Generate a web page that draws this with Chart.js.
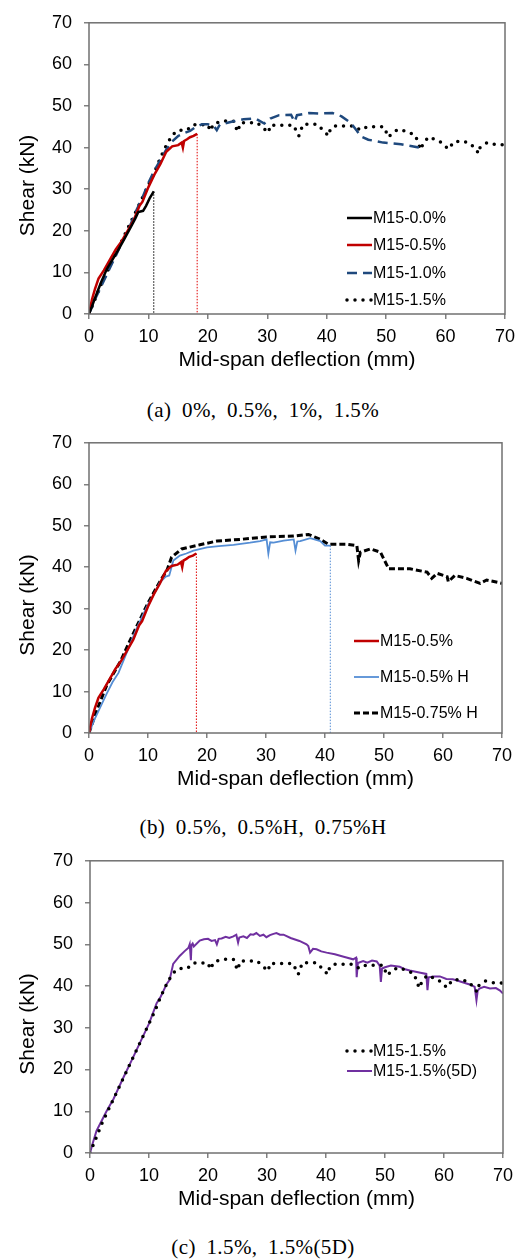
<!DOCTYPE html>
<html>
<head>
<meta charset="utf-8">
<script src="https://cdn.jsdelivr.net/npm/chart.js@4.4.1/dist/chart.umd.min.js"></script>
<style>
body { margin: 0; background: #fff; width: 526px; height: 1259px; position: relative; overflow: hidden; }
canvas { position: absolute; left: 0; }
.cap { position: absolute; left: 0; width: 526px; text-align: center; font-family: "Liberation Serif", "Times New Roman", serif; font-size: 21px; letter-spacing: 0.4px; word-spacing: 5px; line-height: 24px; color: #000; }
</style>
</head>
<body>
<canvas id="chartA" width="526" height="373" style="top:0px"></canvas>
<div class="cap" style="top:398px">(a) 0%, 0.5%, 1%, 1.5%</div>
<canvas id="chartB" width="526" height="372" style="top:420px"></canvas>
<div class="cap" style="top:815px">(b) 0.5%, 0.5%H, 0.75%H</div>
<canvas id="chartC" width="526" height="374" style="top:838px"></canvas>
<div class="cap" style="top:1235px">(c) 1.5%, 1.5%(5D)</div>

<script>
// tick values (mm / kN)
const xTicks = [0, 10, 20, 30, 40, 50, 60, 70];
const yTicks = [0, 10, 20, 30, 40, 50, 60, 70];

// [deflection mm, shear kN]
const m15_00 = [[0,0],[0.5,1.8],[1,3.8],[2,7.5],[3,10.8],[4,13.2],[5,15.6],[6,18.2],[7,20.8],[7.8,23],[8.3,24.5],[9.1,24.8],[9.6,26],[10.2,27.8],[10.9,29.5]];
const m15_00_end = [[10.9,29.5],[10.9,0]];

const m15_05 = [[0,0],[0.5,3.5],[1,6],[1.6,8.5],[2.5,10.5],[3.5,13],[4.5,15.5],[5.5,17.5],[6.5,20],[7.5,22.5],[8.5,26],[9,27],[10,30.5],[11,33.5],[12,36],[13,39],[14,40.3],[15,40.6],[15.6,41.2],[15.8,40],[16,41.6],[16.5,42],[17,42.5],[17.6,42.8],[18.2,43.3]];
const m15_05_end = [[18.2,43.3],[18.2,0]];

const m15_10 = [[0,0],[1,3.5],[2,6.5],[3,9.5],[4,12.5],[5,15.5],[6,18.5],[7,21.5],[8,25],[9,28],[10,31.5],[11,34.5],[12,37],[13,39.5],[14,41.5],[15,42.8],[16,43.5],[17,44],[18,45],[19,45.6],[20,45.6],[21,45.2],[21.5,44.2],[22,45.5],[24,46.2],[26,46.8],[28,47],[29.5,45.8],[30.5,47],[32,47.8],[34,47.9],[34.6,46.2],[35,47.8],[37,48.3],[39,48.2],[41,48.3],[42.5,47.5],[44,46],[45,44.2],[45.7,42.7],[47,41.9],[49.5,41.2],[52.5,40.8],[55.5,40]];

const m15_15 = [[0,0],[1,3.5],[2,7],[3,10],[4,13],[5,16],[6,19],[7,22],[8,25],[9,28],[10,31],[11,34],[12,37.5],[13,40.5],[14,43],[15,44.2],[16.5,44.2],[17.5,45.5],[20,45.5],[20.4,44],[21,45.8],[22.7,46.4],[24.3,46.4],[25,43.8],[25.5,46],[28.3,46],[30.2,43.6],[30.5,45.4],[34.4,45.4],[35.3,42.8],[36,45.6],[38.4,45.6],[40.3,42.8],[40.6,44.4],[41.2,45.2],[44.5,45.2],[45.7,44.2],[46.8,45],[49.6,45],[50.4,42.5],[51,43.5],[51.5,44],[52.4,44.4],[54.9,43],[55.8,39.5],[56.3,41.2],[57.2,42.6],[59.1,41.4],[60.5,39.6],[61.4,41.4],[62.8,41.6],[64.2,41],[65.6,38.6],[65.8,40],[67,41.2],[68.6,40.7],[70,40.7]];

const m15_05H = [[0,0],[1,3.5],[2,6.5],[3,9.5],[4,12.3],[5,14.5],[6,18],[7,21.5],[8,25],[9,28],[10,31],[11,33.5],[12,36.3],[13,37.7],[13.6,38],[14.3,41.6],[15.4,42.8],[16.5,43.3],[17.7,44],[20,44.8],[22,45.1],[24.5,45.4],[27.3,45.9],[29,46.3],[30.1,46.7],[30.4,43.3],[30.7,46],[31.3,45.9],[33,46.4],[34.7,46.7],[35,44],[35.3,46.2],[35.8,46.3],[37.5,47],[39.2,46.3],[40,45.2],[40.9,45.2]];
const m15_05H_end = [[40.9,45.2],[40.9,0]];

const m15_075H = [[0,0],[1.3,5.4],[3,11.5],[5.3,17.2],[7.5,24],[10,31.4],[12,36.5],[13.2,39.2],[14,42.4],[15.7,44.4],[18.8,45.4],[21.7,46.3],[25.6,46.7],[30.1,47.3],[34.7,47.5],[37.2,47.9],[39.2,46.7],[40.6,45.5],[43.7,45.5],[45.4,45.2],[45.7,41.6],[46,43.6],[47.7,44.4],[49.4,43.6],[50.8,39.6],[54.4,39.6],[57.3,38.8],[58.1,37.3],[59,38.5],[60.7,37.7],[60.9,36.5],[62,38],[64,37.3],[66.3,36.1],[67.4,36.9],[70,36.1]];

const m15_15_5D = [[0,0],[0.5,2.5],[1.1,5.3],[2,7.8],[2.8,10],[4,13],[5.6,17.9],[7,22],[9,28],[10,31],[11.3,35.9],[12,37.5],[13,40.5],[13.5,41.5],[14.1,45.3],[15.2,47.2],[16,48.3],[16.7,49.2],[16.9,50],[17.1,46.2],[17.2,49.8],[17.4,50.2],[17.6,49.5],[18.6,50.9],[19.3,51.2],[20,51.3],[20.6,50.8],[21.2,51],[21.5,50],[21.8,51.3],[22.3,51.4],[23,51.8],[23.6,51.5],[24.3,51.9],[24.8,52.3],[25.1,50.4],[25.3,51.6],[26,51.9],[26.6,51.5],[27.2,52.4],[27.7,52.3],[28.2,52.7],[28.8,52],[29.4,52.3],[29.9,51.7],[30.5,52.2],[31.1,52.5],[31.6,52.7],[32.2,52.3],[32.8,52.3],[34,51.5],[35.5,50.8],[36.7,50],[37,49.6],[37.3,48],[37.8,48.9],[38.4,48.8],[39.2,48.3],[40.1,48],[41.5,47.6],[43,47],[44.6,46.4],[45.1,46.8],[45.2,42.1],[45.4,45.5],[46.3,46],[47,45.6],[47.8,46.1],[48.6,45.9],[49.1,44.9],[49.3,41],[49.5,44.2],[50,44.5],[51,44.9],[52.5,44.6],[53.4,44],[54.2,43.7],[55,43.5],[56,43.2],[57,42.9],[57.2,39],[57.4,42.1],[58.2,42.3],[59.3,42.3],[60.4,41.7],[61.5,41.6],[62.5,41.2],[63.8,40.6],[64.5,40.3],[65.2,39.8],[65.5,36.6],[65.7,38.8],[66,39.4],[66.8,39.8],[67.8,39.4],[68.8,39.5],[69.5,38.9],[70,38.2]];

const FONT = '"Liberation Sans", Arial, sans-serif';

function pts(arr) {
    return arr.map(p => ({ x: p[0], y: p[1] }));
}

// frame, y title and in-plot legend
const decorPlugin = {
    id: 'decor',
    afterDatasetsDraw(chart, args, opts) {
        const ctx = chart.ctx;
        const a = chart.chartArea;
        ctx.save();
        ctx.strokeStyle = '#707070';
        ctx.lineWidth = 1.5;
        ctx.strokeRect(a.left, a.top, a.right - a.left, a.bottom - a.top);

        ctx.fillStyle = '#000';
        ctx.font = '21px ' + FONT;
        ctx.textAlign = 'center';
        ctx.textBaseline = 'middle';
        ctx.translate(28, (a.top + a.bottom) / 2 + 17);
        ctx.rotate(-Math.PI / 2);
        ctx.fillText('Shear (kN)', 0, 0);
        ctx.restore();

        // legend
        ctx.save();
        ctx.font = '16px ' + FONT;
        ctx.textBaseline = 'middle';
        ctx.textAlign = 'left';
        opts.items.forEach((idx, i) => {
            const ds = chart.data.datasets[idx];
            const y = opts.rows[i];
            ctx.strokeStyle = ds.borderColor;
            ctx.lineWidth = ds.borderWidth;
            ctx.lineCap = ds.borderCapStyle || 'butt';
            ctx.setLineDash(ds.borderDash || []);
            ctx.beginPath();
            ctx.moveTo(opts.x, y);
            ctx.lineTo(opts.x + opts.len, y);
            ctx.stroke();
            ctx.setLineDash([]);
            ctx.fillStyle = '#000';
            ctx.fillText(ds.label, opts.x + opts.len + 1, y + 1);
        });
        ctx.restore();
    }
};

function makeChart(id, datasets, yWidth, padRight, legend) {
    const ctx = document.getElementById(id).getContext('2d');
    return new Chart(ctx, {
        type: 'line',
        data: { datasets: datasets },
        options: {
            responsive: false,
            animation: false,
            devicePixelRatio: 1,
            layout: { padding: { top: 17, right: padRight, bottom: 0, left: 0 } },
            elements: { point: { radius: 0 }, line: { tension: 0 } },
            plugins: { legend: { display: false }, tooltip: { enabled: false }, decor: legend },
            scales: {
                x: {
                    type: 'linear', min: 0, max: 70,
                    afterBuildTicks: s => { s.ticks = xTicks.map(v => ({ value: v })); },
                    afterFit: s => { s.height = 59; },
                    grid: { drawOnChartArea: false, drawTicks: true, tickLength: 5, color: '#808080', lineWidth: 1.5 },
                    border: { display: false },
                    ticks: { color: '#000', font: { family: FONT, size: 18 }, padding: 7, maxRotation: 0 },
                    title: { display: true, text: 'Mid-span deflection (mm)', color: '#000', font: { family: FONT, size: 21 }, padding: { top: 0, bottom: 0 } }
                },
                y: {
                    type: 'linear', min: 0, max: 70,
                    afterBuildTicks: s => { s.ticks = yTicks.map(v => ({ value: v })); },
                    afterFit: s => { s.width = yWidth; },
                    grid: { drawOnChartArea: false, drawTicks: true, tickLength: 5, color: '#808080', lineWidth: 1.5 },
                    border: { display: false },
                    ticks: { color: '#000', font: { family: FONT, size: 18 }, padding: 12 }
                }
            }
        },
        plugins: [decorPlugin]
    });
}

const dotted = { borderColor: '#000', borderWidth: 3.5, borderDash: [0, 8], borderCapStyle: 'round' };

makeChart('chartA', [
    { label: 'M15-0.0%', data: pts(m15_00), borderColor: '#000', borderWidth: 2.5 },
    { label: 'M15-0.5%', data: pts(m15_05), borderColor: '#c00000', borderWidth: 2.5 },
    { label: 'M15-1.0%', data: pts(m15_10), borderColor: '#1f497d', borderWidth: 2.5, borderDash: [10, 6] },
    Object.assign({ label: 'M15-1.5%', data: pts(m15_15) }, dotted),
    { label: 'end0', data: pts(m15_00_end), borderColor: '#000', borderWidth: 1, borderDash: [1.5, 1.5] },
    { label: 'end1', data: pts(m15_05_end), borderColor: '#e00000', borderWidth: 1, borderDash: [1.5, 1.5] }
], 89, 21, { x: 347, len: 25, rows: [218, 245, 273, 300], items: [0, 1, 2, 3] });

makeChart('chartB', [
    { label: 'M15-0.5%', data: pts(m15_05), borderColor: '#c00000', borderWidth: 2.5 },
    { label: 'M15-0.5% H', data: pts(m15_05H), borderColor: '#558ed5', borderWidth: 1.8 },
    { label: 'M15-0.75% H', data: pts(m15_075H), borderColor: '#000', borderWidth: 3, borderDash: [6, 3] },
    { label: 'end1', data: pts(m15_05_end), borderColor: '#e00000', borderWidth: 1, borderDash: [1.5, 1.5] },
    { label: 'end2', data: pts(m15_05H_end), borderColor: '#558ed5', borderWidth: 1, borderDash: [1.5, 1.5] }
], 89, 24, { x: 354, len: 25, rows: [641, 677, 713].map(v => v - 420), items: [0, 1, 2] });

makeChart('chartC', [
    Object.assign({ label: 'M15-1.5%', data: pts(m15_15) }, dotted),
    { label: 'M15-1.5%(5D)', data: pts(m15_15_5D), borderColor: '#7030a0', borderWidth: 2 }
], 90, 23, { x: 347, len: 25, rows: [1051, 1071].map(v => v - 838), items: [0, 1] });
</script>
</body>
</html>
